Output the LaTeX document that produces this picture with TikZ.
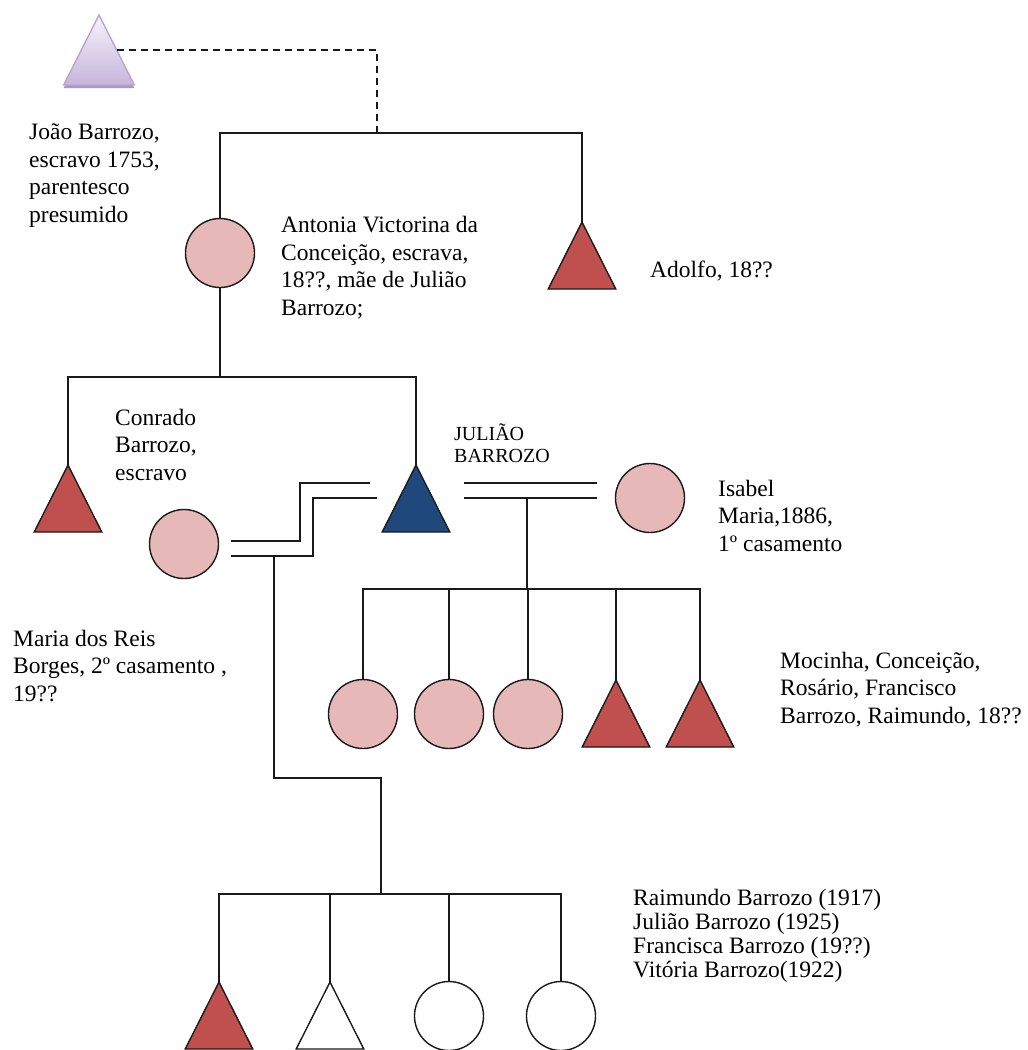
\documentclass[tikz,border=0pt]{standalone}
\usepackage{fontspec}
\setmainfont{Liberation Serif}
\usetikzlibrary{shapes.geometric,shadows,calc}
\definecolor{pinkf}{HTML}{E6B8B7}
\definecolor{redf}{HTML}{C0504D}
\definecolor{bluef}{HTML}{1F497D}
\definecolor{lavtop}{HTML}{F7F3FB}
\definecolor{lavbot}{HTML}{C6B5DB}
\definecolor{lavline}{HTML}{B8A6CF}
\definecolor{lavshadow}{HTML}{A998C2}
\definecolor{ink}{HTML}{1A1A1A}
\begin{document}
\begin{tikzpicture}[x=1pt,y=-1pt,
  link/.style={draw=ink, line width=1.6pt},
  fcircle/.style={circle, draw=ink, line width=1.4pt, minimum size=69pt, inner sep=0pt, outer sep=0pt},
  mtri/.style={isosceles triangle, isosceles triangle apex angle=53.5, shape border rotate=90,
    draw=ink, line width=1.4pt, minimum width=67pt, minimum height=67pt, inner sep=0pt, outer sep=0pt, anchor=apex},
  lbl/.style={anchor=base west, align=left, inner sep=0pt, font=\fontsize{23.5}{27.5}\selectfont},
]
\useasboundingbox (0,0) rectangle (1028,1050);

% ---- people ----
\node[mtri, draw=lavline, top color=lavtop, bottom color=lavbot,
      general shadow={fill=lavshadow, shadow yshift=-3pt}, minimum width=70pt, minimum height=70pt] (joao) at (99,15) {};
\node[fcircle, fill=pinkf] (antonia) at (220,253) {};
\node[mtri, fill=redf] (adolfo) at (582,222) {};
\node[mtri, fill=redf] (conrado) at (68,465) {};
\node[mtri, fill=bluef] (juliao) at (416,465) {};
\node[fcircle, fill=pinkf] (isabel) at (650,498) {};
\node[fcircle, fill=pinkf] (maria) at (184,544) {};

\node[fcircle, fill=pinkf] (c1) at (363,714) {};
\node[fcircle, fill=pinkf] (c2) at (449,714) {};
\node[fcircle, fill=pinkf] (c3) at (528,714) {};
\node[mtri, fill=redf] (c4) at (616,680) {};
\node[mtri, fill=redf] (c5) at (700,680) {};

\node[mtri, fill=redf] (b1) at (219,982) {};
\node[mtri, fill=white] (b2) at (330,982) {};
\node[fcircle, fill=white] (b3) at (449,1016) {};
\node[fcircle, fill=white] (b4) at (561,1016) {};

% ---- labels (anchored at the baseline of the last line) ----
\node[lbl] (tjoao) at (29,222) {João Barrozo,\\escravo 1753,\\parentesco\\presumido};
\node[lbl] (tantonia) at (281,315) {Antonia Victorina da\\Conceição, escrava,\\18??, mãe de Julião\\Barrozo;};
\node[lbl] (tadolfo) at (650,277) {Adolfo, 18??};
\node[lbl] (tconrado) at (115,480) {Conrado\\Barrozo,\\escravo};
\node[lbl, font=\fontsize{20}{22}\selectfont] (tjuliao) at (454,462) {JULIÃO\\BARROZO};
\node[lbl] (tisabel) at (718,551) {Isabel\\Maria,1886,\\1º casamento};
\node[lbl] (tmaria) at (13,701) {Maria dos Reis\\Borges, 2º casamento ,\\19??};
\node[lbl] (tkids1) at (780,723) {Mocinha, Conceição,\\Rosário, Francisco\\Barrozo, Raimundo, 18??};
\node[lbl, font=\fontsize{23.5}{24}\selectfont] (tkids2) at (633,977) {Raimundo Barrozo (1917)\\Julião Barrozo (1925)\\Francisca Barrozo (19??)\\Vitória Barrozo(1922)};

% ---- junction points ----
\coordinate (g1) at (377,133);
\coordinate (g2) at (220,377);
\coordinate (mjI1) at (464,483);
\coordinate (mjI2) at (464,498);
\coordinate (mI1) at (597,483);
\coordinate (mI2) at (597,498);
\coordinate (f1) at (527,498);
\coordinate (bar1) at (527,589);
\coordinate (mjM1) at (370,483);
\coordinate (mjM2) at (377,498);
\coordinate (s1a) at (300,483);
\coordinate (s1b) at (300,541);
\coordinate (s2a) at (313,498);
\coordinate (s2b) at (313,556);
\coordinate (mM1) at (231,541);
\coordinate (mM2) at (231,556);
\coordinate (f2) at (274,556);
\coordinate (k1) at (274,778);
\coordinate (bar2) at (381,894);

% ---- connectors ----
\draw[draw=ink, line width=1.6pt, dash pattern=on 7pt off 5pt] ($(joao.apex)!0.5!(joao.right corner)$) -| (g1);
\draw[link] (antonia.north) |- (g1) -| (adolfo.apex);
\draw[link] (antonia.south) -- (g2);
\draw[link] (conrado.apex) |- (g2) -| (juliao.apex);

\draw[link] (mjI1) -- (mI1);
\draw[link] (mjI2) -- (mI2);
\draw[link] (f1) -- (bar1);
\draw[link] (c1.north) |- (bar1) -| (c5.apex);
\draw[link] (c2.north) -- (c2.north |- bar1);
\draw[link] (c3.north) -- (c3.north |- bar1);
\draw[link] (c4.apex) -- (c4.apex |- bar1);

\draw[link] (mjM1) -- (s1a) -- (s1b) -- (mM1);
\draw[link] (mjM2) -- (s2a) -- (s2b) -- (mM2);
\draw[link] (f2) -- (k1) -| (bar2);
\draw[link] (b1.apex) |- (bar2) -| (b4.north);
\draw[link] (b2.apex) -- (b2.apex |- bar2);
\draw[link] (b3.north) -- (b3.north |- bar2);
\end{tikzpicture}
\end{document}
